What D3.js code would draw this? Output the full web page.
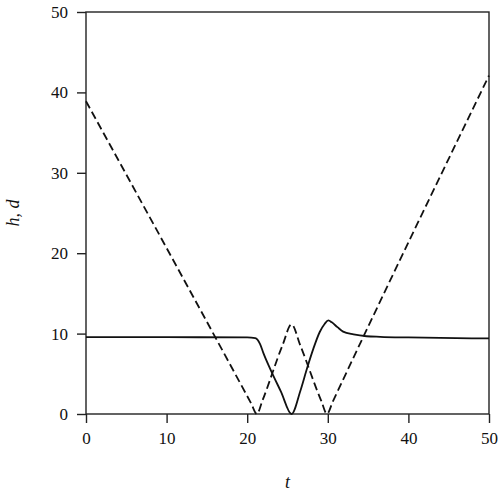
<!DOCTYPE html>
<html>
<head>
<meta charset="utf-8">
<script src="https://cdn.jsdelivr.net/npm/d3@7"></script>
<style>
  body { margin: 0; background: #fff; }
</style>
</head>
<body>
<div class="chart"></div>
<script>
  // values
  const hTimes = [0, 10, 20, 21.0, 21.6, 22.0, 22.95, 24.2, 25.5, 26.6, 27.4, 28.2, 29.0, 29.6, 30.07, 30.5, 31.2, 31.9, 33.2, 34.8, 36.5, 40, 50];
  const hValues = [9.55, 9.55, 9.52, 9.45, 8.7, 7.6, 5.4, 2.75, 0, 2.9, 5.6, 8.1, 10.2, 11.2, 11.65, 11.4, 10.8, 10.25, 9.9, 9.67, 9.6, 9.52, 9.4];
  const dTimes = [0, 20.5, 21.2, 21.9, 24.4, 25.5, 26.6, 29.2, 29.9, 30.6, 50];
  const dValues = [38.9, 1.3, 0, 1.7, 8.6, 11.15, 8.5, 1.6, 0, 1.5, 42.1];
  const xTicks = [0, 10, 20, 30, 40, 50];
  const yTicks = [0, 10, 20, 30, 40, 50];

  const width = 500, height = 496;
  const margin = { top: 12, right: 11, bottom: 82, left: 86 };
  const serif = "'Liberation Serif', 'DejaVu Serif', 'Times New Roman', serif";

  const svg = d3.select(".chart")
    .append("svg")
    .attr("width", width)
    .attr("height", height);

  const x = d3.scaleLinear().domain([0, 50]).range([margin.left, width - margin.right]);
  const y = d3.scaleLinear().domain([0, 50]).range([height - margin.bottom, margin.top]);

  // frame
  svg.append("rect")
    .attr("x", x(0)).attr("y", y(50))
    .attr("width", x(50) - x(0)).attr("height", y(0) - y(50))
    .attr("fill", "none").attr("stroke", "#222").attr("stroke-width", 1.4);

  const xAxis = svg.append("g")
    .attr("transform", `translate(0,${y(0)})`)
    .call(d3.axisBottom(x).tickValues(xTicks).tickSize(9).tickPadding(9));
  const yAxis = svg.append("g")
    .attr("transform", `translate(${x(0)},0)`)
    .call(d3.axisLeft(y).tickValues(yTicks).tickSize(9).tickPadding(9));

  [xAxis, yAxis].forEach(a => {
    a.attr("font-family", serif).attr("font-size", 17);
    a.select(".domain").remove();
    a.selectAll(".tick line").attr("stroke", "#222").attr("stroke-width", 1.4);
    a.selectAll(".tick text").attr("fill", "#111");
  });

  const line = d3.line()
    .x(p => x(p[0]))
    .y(p => y(p[1]))
    .curve(d3.curveMonotoneX);

  svg.append("path")
    .datum(d3.zip(hTimes, hValues))
    .attr("d", line)
    .attr("fill", "none")
    .attr("stroke", "#111")
    .attr("stroke-width", 1.8);

  svg.append("path")
    .datum(d3.zip(dTimes, dValues))
    .attr("d", line)
    .attr("fill", "none")
    .attr("stroke", "#111")
    .attr("stroke-width", 1.8)
    .attr("stroke-dasharray", "8,4");

  // axis titles
  svg.append("text")
    .attr("x", x(25))
    .attr("y", 488)
    .attr("text-anchor", "middle")
    .attr("font-family", serif)
    .attr("font-size", 18)
    .attr("font-style", "italic")
    .attr("fill", "#111")
    .text("t");

  svg.append("text")
    .attr("transform", `translate(19,${(y(0) + y(50)) / 2}) rotate(-90)`)
    .attr("text-anchor", "middle")
    .attr("font-family", serif)
    .attr("font-size", 18)
    .attr("font-style", "italic")
    .attr("fill", "#111")
    .text("h, d");
</script>
</body>
</html>
